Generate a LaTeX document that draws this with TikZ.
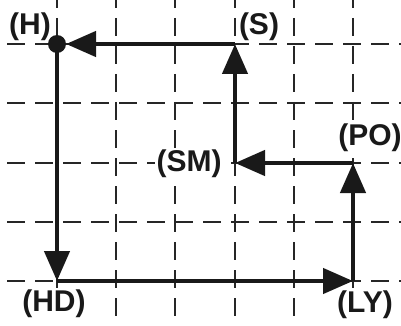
\documentclass[tikz,border=0pt]{standalone}
\usepackage{fontspec}
\setmainfont{Liberation Sans}
\usetikzlibrary{arrows.meta}
\begin{document}
\begin{tikzpicture}[x=1pt,y=-1pt,
  gridline/.style={line width=1.7pt,dash pattern=on 18pt off 10pt,color=black!85},
  gridv/.style={gridline,dash phase=10pt},
  thick path/.style={line width=4.5pt,color=black!90},
  arr/.style={thick path,-{Triangle[length=30pt,width=25pt]}},
  lbl/.style={font=\fontsize{30}{32}\selectfont\bfseries,inner sep=1.5pt,fill=white,text=black!90}]
\useasboundingbox (0,0) rectangle (401,326);
% grid
\foreach \x in {57,116,175,235,294,353} \draw[gridv] (\x,0) -- (\x,326);
\foreach \y in {44,103,163,222,281} \draw[gridline] (7,\y) -- (401,\y);
% labels
\node[lbl] (Hl) at (30,27) {(H)};
\node[lbl] (Sl) at (259,27) {(S)};
\node[lbl] (SMl) at (189,164) {(SM)};
\node[lbl] (POl) at (370,138) {(PO)};
\node[lbl] (HDl) at (54,304) {(HD)};
\node[lbl] (LYl) at (365,305) {(LY)};
% points
\coordinate (H) at (57,44);
\coordinate (S) at (235,44);
\coordinate (SM) at (235,163);
\coordinate (PO) at (353,163);
\coordinate (LY) at (353,281);
\coordinate (HD) at (57,281);
\coordinate (Hdot) at (66,44);
% path
\draw[arr] (S) -- (Hdot);
\draw[arr] (H) -- (HD);
\draw[arr] (HD) -- (LY);
\draw[arr] (LY) -- (PO);
\draw[arr] (PO) -- (SM);
\draw[arr] (SM) -- (S);
\fill[black!90] (H) circle (9pt);
\end{tikzpicture}
\end{document}
